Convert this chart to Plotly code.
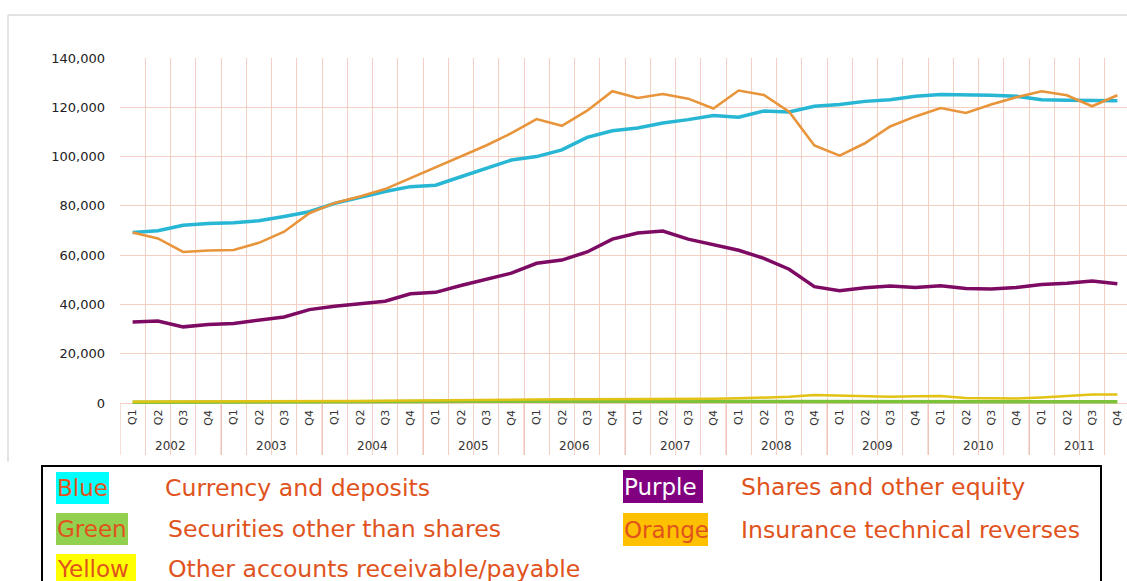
import plotly.graph_objects as go

# ---------------- data ----------------
years = ["2002", "2003", "2004", "2005", "2006", "2007", "2008", "2009", "2010", "2011"]
quarters = ["Q1", "Q2", "Q3", "Q4"]

currency_deposits = [69.2, 69.9, 72.1, 72.8, 73.1, 74.0, 75.7, 77.6, 81.0, 83.4,
                     85.8, 87.8, 88.4, 91.8, 95.2, 98.6, 100.0, 102.7, 107.8, 110.5,
                     111.6, 113.6, 115.0, 116.7, 116.0, 118.5, 118.1, 120.4, 121.1, 122.4,
                     123.1, 124.5, 125.2, 125.2, 124.9, 124.5, 123.1, 122.9, 122.9, 122.7]
insurance_reserves = [69.2, 66.8, 61.3, 61.9, 62.1, 65.0, 69.5, 77.0, 81.2, 83.8,
                      86.8, 91.2, 95.9, 100.0, 104.5, 109.5, 115.2, 112.5, 118.6, 126.5,
                      123.8, 125.4, 123.5, 119.5, 126.8, 125.0, 118.2, 104.5, 100.4, 105.4,
                      112.2, 116.3, 119.7, 117.7, 121.1, 124.1, 126.5, 124.9, 120.4, 124.9]
shares_equity = [32.9, 33.3, 30.9, 31.9, 32.3, 33.5, 34.9, 37.9, 39.3, 40.3,
                 41.3, 44.3, 44.9, 47.7, 50.3, 52.7, 56.7, 58.0, 61.3, 66.5,
                 69.0, 69.8, 66.5, 64.3, 62.0, 58.7, 54.3, 47.2, 45.6, 46.8,
                 47.5, 46.9, 47.6, 46.5, 46.3, 46.9, 48.1, 48.6, 49.5, 48.4]
securities = [0.3, 0.3, 0.3, 0.3, 0.3, 0.3, 0.3, 0.3, 0.4, 0.4,
              0.4, 0.5, 0.6, 0.7, 0.7, 0.7, 0.7, 0.7, 0.7, 0.7,
              0.6, 0.6, 0.6, 0.6, 0.6, 0.6, 0.5, 0.5, 0.5, 0.5,
              0.5, 0.5, 0.5, 0.5, 0.5, 0.5, 0.5, 0.5, 0.5, 0.5]
other_accounts = [0.5, 0.5, 0.5, 0.6, 0.6, 0.6, 0.7, 0.7, 0.8, 0.8,
                  0.9, 1.0, 1.2, 1.3, 1.4, 1.4, 1.4, 1.5, 1.5, 1.5,
                  1.5, 1.5, 1.6, 1.7, 1.9, 2.1, 2.5, 3.2, 2.9, 2.8,
                  2.5, 2.7, 2.8, 2.0, 1.8, 1.8, 2.2, 2.7, 3.4, 3.5]
y_ticks = [0, 20000, 40000, 60000, 80000, 100000, 120000, 140000]

# ---------------- helpers ----------------
W, H = 1127, 581
L, R, T, B = 120, 0, 58, 126
PW, PH = W - L - R, H - T - B


def PX(x):
    return (x - L) / PW


def PY(y):
    return (H - B - y) / PH


n = len(years) * len(quarters)
xs = list(range(n))
scale = 1000

fig = go.Figure()
series = [
    (securities, "#7CC23A", 3.5, "Securities other than shares"),
    (other_accounts, "#E2C214", 2.5, "Other accounts receivable/payable"),
    (shares_equity, "#7D0B63", 3.5, "Shares and other equity"),
    (currency_deposits, "#27B6D3", 3.5, "Currency and deposits"),
    (insurance_reserves, "#E8943A", 2.6, "Insurance technical reverses"),
]
for vals, col, w, name in series:
    fig.add_trace(go.Scatter(x=xs, y=[v * scale for v in vals], mode="lines",
                             line=dict(color=col, width=w), name=name,
                             showlegend=False, hoverinfo="skip"))

grid_col = "#F3CFC4"
annotations = []
# quarter labels
for i in xs:
    annotations.append(dict(x=i, y=-5800, xref="x", yref="y", text=quarters[i % 4],
                            textangle=-90, showarrow=False,
                            font=dict(family="DejaVu Sans", size=11, color="#333333")))
# year labels
for k, yr in enumerate(years):
    annotations.append(dict(x=4 * k + 1.5, y=-17300, xref="x", yref="y", text=yr,
                            showarrow=False,
                            font=dict(family="DejaVu Sans", size=12, color="#333333")))

shapes = []
# year separators in the label area
for k in range(len(years) + 1):
    shapes.append(dict(type="line", xref="x", yref="y", x0=4 * k - 0.5, x1=4 * k - 0.5,
                       y0=0, y1=-21100, line=dict(color="#EDBBAE", width=1)))
# outer picture frame
shapes.append(dict(type="line", xref="paper", yref="paper", x0=PX(8), x1=PX(1127),
                   y0=PY(15), y1=PY(15), line=dict(color="#DADADA", width=1.5)))
shapes.append(dict(type="line", xref="paper", yref="paper", x0=PX(8), x1=PX(8),
                   y0=PY(15), y1=PY(462), line=dict(color="#DADADA", width=1.5)))
# legend box
shapes.append(dict(type="rect", xref="paper", yref="paper", x0=PX(42), x1=PX(1101),
                   y0=PY(466), y1=PY(620), line=dict(color="black", width=2),
                   fillcolor="rgba(0,0,0,0)"))

legend_rows = [
    ("Blue", "#00FFFF", "#E0531D", 56, 109, 472, 504, "Currency and deposits", 165),
    ("Green", "#92D050", "#E0531D", 56, 128, 513, 545, "Securities other than shares", 168),
    ("Yellow", "#FFFF00", "#E0531D", 56, 136, 554, 590, "Other accounts receivable/payable", 168),
    ("Purple", "#800080", "#FFFFFF", 623, 703, 470, 503, "Shares and other equity", 741),
    ("Orange", "#FFC000", "#E0531D", 623, 708, 513, 546, "Insurance technical reverses", 741),
]
for lab, bg, fc, x0, x1, y0, y1, desc, dx in legend_rows:
    shapes.append(dict(type="rect", xref="paper", yref="paper", x0=PX(x0), x1=PX(x1),
                       y0=PY(y0), y1=PY(y1), line=dict(width=0), fillcolor=bg))
    yc = (y0 + y1) / 2 if y1 < 581 else 569
    annotations.append(dict(x=PX(x0 - 1), y=PY(yc), xref="paper", yref="paper", text=lab,
                            xanchor="left", yanchor="middle", showarrow=False,
                            font=dict(family="DejaVu Sans", size=23, color=fc)))
    annotations.append(dict(x=PX(dx - 2), y=PY(yc), xref="paper", yref="paper", text=desc,
                            xanchor="left", yanchor="middle", showarrow=False,
                            font=dict(family="DejaVu Sans", size=23.6, color="#E0531D")))

fig.update_layout(
    width=W, height=H,
    margin=dict(l=L, r=R, t=T, b=B, pad=0),
    paper_bgcolor="white", plot_bgcolor="white",
    showlegend=False,
    xaxis=dict(range=[-0.5, -0.5 + PW / 25.25], tickmode="array",
               tickvals=[k - 0.5 for k in range(n + 1)], showticklabels=False,
               showgrid=True, gridcolor=grid_col, gridwidth=1, zeroline=False,
               showline=False, ticks=""),
    yaxis=dict(range=[-21100, 140000], tickmode="array", tickvals=y_ticks,
               tickformat=",d", showgrid=True, gridcolor=grid_col, gridwidth=1,
               zeroline=False, showline=False, ticks="", ticklabelstandoff=14,
               tickfont=dict(family="DejaVu Sans", size=13, color="#222222")),
    annotations=annotations,
    shapes=shapes,
)

fig.write_html("out.html", config={"displayModeBar": False},
               post_script="document.body.style.margin='0';document.body.style.overflow='hidden';")
